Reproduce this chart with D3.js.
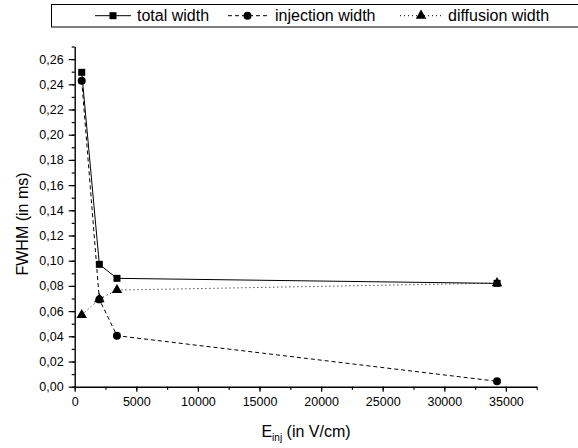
<!DOCTYPE html>
<html>
<head>
<meta charset="utf-8">
<script src="https://cdn.jsdelivr.net/npm/d3@7"></script>
<style>
  body { margin: 0; background: #fff; }
  svg { display: block; font-family: "Liberation Sans", Arial, sans-serif; }
</style>
</head>
<body>
<svg id="chart" width="578" height="448"></svg>
<script>
// data
var fieldValues = [570, 2000, 3430, 34280];           // E_inj in V/cm
var totalWidth = [0.2495, 0.0971, 0.086, 0.082];
var injectionWidth = [0.2429, 0.0693, 0.0405, 0.0043];
var diffusionWidth = [0.0569, 0.0695, 0.0767, 0.0822];
var seriesNames = ["total width", "injection width", "diffusion width"];
var xTicks = [0, 5000, 10000, 15000, 20000, 25000, 30000, 35000];
var yTicks = [0, 0.02, 0.04, 0.06, 0.08, 0.10, 0.12, 0.14, 0.16, 0.18, 0.20, 0.22, 0.24, 0.26];

var svg = d3.select("#chart");

var x = d3.scaleLinear().domain([0, 37500]).range([74.7, 536.7]);
var y = d3.scaleLinear().domain([0, 0.27]).range([386.7, 46.5]);

var commaFmt = function (d) { return d3.format(".2f")(d).replace(".", ","); };

/*---------------- axes ----------------*/

// minor ticks first
var xMinor = d3.range(0, 37501, 2500);
var yMinor = d3.range(0, 0.2701, 0.01);

svg.append("g")
    .attr("transform", "translate(0," + y(0) + ")")
    .call(d3.axisBottom(x).tickValues(xMinor).tickSize(3).tickFormat(""))
    .call(function (g) { g.select(".domain").remove(); g.selectAll("line").attr("stroke-width", 1.2); });

svg.append("g")
    .attr("transform", "translate(" + x(0) + ",0)")
    .call(d3.axisLeft(y).tickValues(yMinor).tickSize(3).tickFormat(""))
    .call(function (g) { g.select(".domain").remove(); g.selectAll("line").attr("stroke-width", 1.2); });

var xAxis = svg.append("g")
    .attr("transform", "translate(0," + y(0) + ")")
    .call(d3.axisBottom(x).tickValues(xTicks).tickSize(5).tickSizeOuter(0).tickPadding(5).tickFormat(d3.format("d")));

var yAxis = svg.append("g")
    .attr("transform", "translate(" + x(0) + ",0)")
    .call(d3.axisLeft(y).tickValues(yTicks).tickSize(6).tickSizeOuter(0).tickPadding(5).tickFormat(commaFmt));

[xAxis, yAxis].forEach(function (g) {
    g.select(".domain").attr("stroke-width", 1.4);
    g.selectAll(".tick line").attr("stroke-width", 1.2);
    g.selectAll("text").attr("font-size", "12.5px").attr("font-family", "'Liberation Sans', Arial, sans-serif").attr("fill", "#000");
});

// axis titles
var xTitle = svg.append("text")
    .attr("x", 306)
    .attr("y", 437)
    .attr("text-anchor", "middle")
    .attr("font-size", "16px");
xTitle.append("tspan").text("E");
xTitle.append("tspan").attr("font-size", "10px").attr("dy", 4).text("inj");
xTitle.append("tspan").attr("dy", -4).text(" (in V/cm)");

svg.append("text")
    .attr("transform", "translate(28,224) rotate(-90)")
    .attr("text-anchor", "middle")
    .attr("font-size", "16px")
    .text("FWHM (in ms)");

/*---------------- series ----------------*/

var series = [
    { name: seriesNames[0], values: totalWidth, dash: null, shape: d3.symbolSquare, size: 49 },
    { name: seriesNames[1], values: injectionWidth, dash: "4,3", shape: d3.symbolCircle, size: 50 },
    { name: seriesNames[2], values: diffusionWidth, dash: "1,3", shape: d3.symbolTriangle, size: 48 }
];

var line = d3.line()
    .x(function (d) { return x(d[0]); })
    .y(function (d) { return y(d[1]); });

series.forEach(function (s) {
    var pts = fieldValues.map(function (v, i) { return [v, s.values[i]]; });
    svg.append("path")
        .datum(pts)
        .attr("d", line)
        .attr("fill", "none")
        .attr("stroke", "#000")
        .attr("stroke-width", 1)
        .attr("stroke-dasharray", s.dash);
});

series.forEach(function (s) {
    var pts = fieldValues.map(function (v, i) { return [v, s.values[i]]; });
    svg.selectAll(null)
        .data(pts)
        .enter().append("path")
        .attr("d", d3.symbol().type(s.shape).size(s.size))
        .attr("transform", function (d) { return "translate(" + x(d[0]) + "," + y(d[1]) + ")"; })
        .attr("fill", "#000");
});

/*---------------- legend ----------------*/

svg.append("rect")
    .attr("x", 51.5).attr("y", 4.5)
    .attr("width", 540).attr("height", 22.5)
    .attr("fill", "#fff").attr("stroke", "#000").attr("stroke-width", 1);

var legendItems = [
    { x0: 95, x1: 131, tx: 137 },
    { x0: 228, x1: 267, tx: 275 },
    { x0: 400, x1: 442, tx: 448 }
];
var ly = 15.7;

series.forEach(function (s, i) {
    var it = legendItems[i];
    svg.append("line")
        .attr("x1", it.x0).attr("x2", it.x1)
        .attr("y1", ly).attr("y2", ly)
        .attr("stroke", "#000").attr("stroke-width", 1)
        .attr("stroke-dasharray", s.dash);
    svg.append("path")
        .attr("d", d3.symbol().type(s.shape).size(s.size))
        .attr("transform", "translate(" + ((it.x0 + it.x1) / 2) + "," + ly + ")")
        .attr("fill", "#000");
    svg.append("text")
        .attr("x", it.tx).attr("y", ly + 5.5)
        .attr("font-size", "16px")
        .text(s.name);
});
</script>
</body>
</html>
